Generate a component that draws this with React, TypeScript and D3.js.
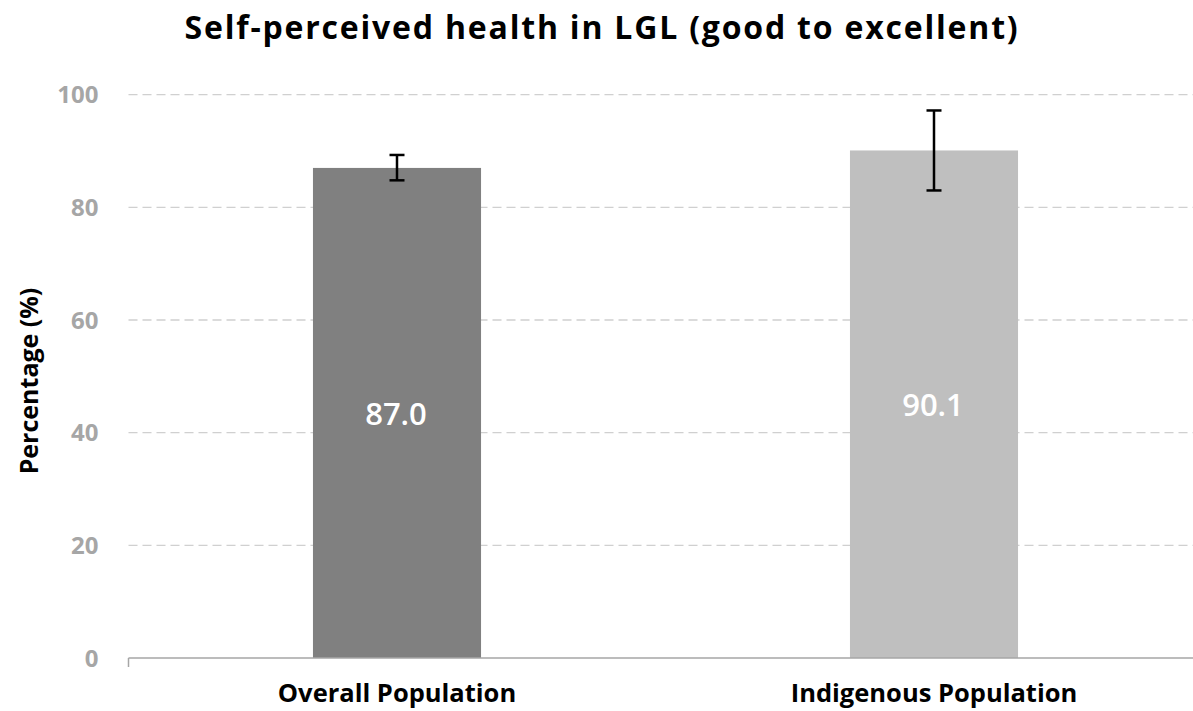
import React from "react";
import * as d3 from "d3";

const categories = ["Overall Population", "Indigenous Population"];
const values = [87.0, 90.1];
const errLow = [84.8, 83.0];
const errHigh = [89.3, 97.2];
const barColors = ["#808080", "#bfbfbf"];
const yTicks = [0, 20, 40, 60, 80, 100];

const W = 1193;
const H = 711;
const margin = { left: 128.5, right: -9.5, top: 94.7, bottom: 53 };
const FONT = "'Open Sans', Lato, sans-serif";

export default function App() {
  const innerW = W - margin.left - margin.right;
  const y = d3.scaleLinear().domain([0, 100]).range([658, 94.7]);
  const x = d3
    .scaleBand<string>()
    .domain(categories)
    .range([margin.left, margin.left + innerW])
    .paddingInner(0.687)
    .paddingOuter(0.3435);
  const bw = x.bandwidth();

  return (
    <svg
      width={W}
      height={H}
      style={{ position: "absolute", left: 0, top: 0, background: "#fff" }}
      fontFamily={FONT}
    >
      <text
        x={602}
        y={38.5}
        textAnchor="middle"
        fontSize={32}
        letterSpacing={1.8}
        fontWeight="bold"
        fill="#000"
      >
        Self-perceived health in LGL (good to excellent)
      </text>
      {yTicks.map((t) => (
        <g key={t}>
          {t > 0 && (
            <line
              x1={margin.left}
              x2={W}
              y1={y(t)}
              y2={y(t)}
              stroke="#d0d0d0"
              strokeWidth={1.3}
              strokeDasharray="9,5"
            />
          )}
          <text
            x={98.5}
            y={y(t)}
            dy="0.36em"
            textAnchor="end"
            fontSize={24}
            fontWeight="bold"
            fill="#a6a6a6"
          >
            {t}
          </text>
        </g>
      ))}
      {categories.map((c, i) => {
        const x0 = x(c)!;
        const cx = x0 + bw / 2;
        return (
          <g key={c}>
            <rect x={x0} y={y(values[i])} width={bw} height={y(0) - y(values[i])} fill={barColors[i]} />
            <text
              x={cx - 1}
              y={(y(values[i]) + y(0)) / 2 + 1}
              dy="0.36em"
              textAnchor="middle"
              fontSize={31}
              fontWeight={600}
              fill="#fff"
            >
              {values[i].toFixed(1)}
            </text>
            <line x1={cx} x2={cx} y1={y(errHigh[i])} y2={y(errLow[i])} stroke="#000" strokeWidth={2.5} />
            <line x1={cx - 7.5} x2={cx + 7.5} y1={y(errHigh[i])} y2={y(errHigh[i])} stroke="#000" strokeWidth={2.5} />
            <line x1={cx - 7.5} x2={cx + 7.5} y1={y(errLow[i])} y2={y(errLow[i])} stroke="#000" strokeWidth={2.5} />
            <text x={cx} y={702} textAnchor="middle" fontSize={25.5} fontWeight="bold" fill="#000">
              {c}
            </text>
          </g>
        );
      })}
      <line x1={margin.left} x2={W} y1={y(0)} y2={y(0)} stroke="#a6a6a6" strokeWidth={1.5} />
      <line x1={margin.left} x2={margin.left} y1={y(0)} y2={y(0) + 9} stroke="#a6a6a6" strokeWidth={1.5} />
      <text
        transform={`translate(38,381) rotate(-90)`}
        textAnchor="middle"
        fontSize={25}
        fontWeight="bold"
        fill="#000"
      >
        Percentage (%)
      </text>
    </svg>
  );
}
